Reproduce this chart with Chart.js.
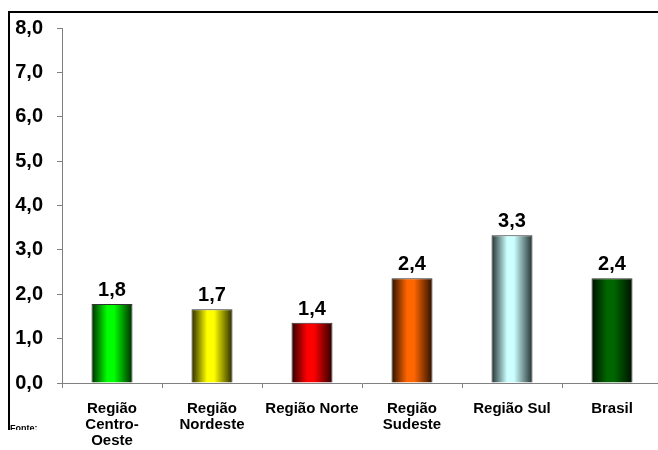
<!DOCTYPE html>
<html>
<head>
<meta charset="utf-8">
<script src="https://cdn.jsdelivr.net/npm/chart.js@4.4.1/dist/chart.umd.min.js"></script>
<style>
  html, body { margin: 0; padding: 0; background: #fff; overflow: hidden; }
  #wrap { position: absolute; left: 0; top: 0; width: 670px; height: 450px; }
</style>
</head>
<body>
<div id="wrap"><canvas id="barChart" width="670" height="450"></canvas></div>
<script>
// dados
const categorias = [
    ['Região', 'Centro-', 'Oeste'],
    ['Região', 'Nordeste'],
    'Região Norte',
    ['Região', 'Sudeste'],
    'Região Sul',
    'Brasil'
];
const valores = [1.78, 1.66, 1.36, 2.36, 3.33, 2.36];
const rotulosY = ['0,0', '1,0', '2,0', '3,0', '4,0', '5,0', '6,0', '7,0', '8,0'];

// cor central e cor da borda de cada barra (efeito cilindro)
const coresCentro = ['#00ff00', '#ffff00', '#ff0000', '#ff6600', '#ccffff', '#006600'];
const coresBorda = ['#002a00', '#2a2a00', '#2a0000', '#2a1000', '#223030', '#001000'];

const fonte = "'Liberation Sans', Arial, sans-serif";

// gradiente horizontal em cada barra
const gradientePlugin = {
    id: 'gradiente',
    beforeDatasetsDraw(chart) {
        const ctx = chart.ctx;
        const meta = chart.getDatasetMeta(0);
        meta.data.forEach((bar, i) => {
            const left = bar.x - bar.width / 2;
            const right = bar.x + bar.width / 2;
            const g = ctx.createLinearGradient(left, 0, right, 0);
            g.addColorStop(0, coresBorda[i]);
            g.addColorStop(0.38, coresCentro[i]);
            g.addColorStop(0.55, coresCentro[i]);
            g.addColorStop(1, coresBorda[i]);
            bar.options.backgroundColor = g;
        });
    }
};

// valores acima das barras, moldura e "Fonte:"
const extrasPlugin = {
    id: 'extras',
    afterDatasetsDraw(chart) {
        const ctx = chart.ctx;
        const meta = chart.getDatasetMeta(0);
        ctx.save();
        ctx.fillStyle = '#000';
        ctx.font = 'bold 20px ' + fonte;
        ctx.textAlign = 'center';
        ctx.textBaseline = 'alphabetic';
        meta.data.forEach((bar, i) => {
            ctx.fillText(valores[i].toFixed(1).replace('.', ','), bar.x, bar.y - 8);
        });
        ctx.restore();
    },
    afterDraw(chart) {
        const ctx = chart.ctx;
        ctx.save();
        ctx.strokeStyle = '#000';
        ctx.lineWidth = 2;
        ctx.beginPath();
        ctx.moveTo(9, 430);
        ctx.lineTo(9, 12);
        ctx.lineTo(chart.width, 12);
        ctx.stroke();

        ctx.beginPath();
        ctx.rect(0, 0, 200, 430);
        ctx.clip();
        ctx.fillStyle = '#000';
        ctx.font = 'bold 9px ' + fonte;
        ctx.textAlign = 'left';
        ctx.textBaseline = 'alphabetic';
        ctx.fillText('Fonte:', 10, 431);
        ctx.restore();
    }
};

const ctx = document.getElementById('barChart').getContext('2d');
new Chart(ctx, {
    type: 'bar',
    data: {
        labels: categorias,
        datasets: [{
            data: valores,
            backgroundColor: coresCentro,
            borderColor: '#333333',
            borderWidth: 1,
            borderSkipped: 'bottom',
            barPercentage: 0.41,
            categoryPercentage: 1.0
        }]
    },
    options: {
        responsive: false,
        animation: false,
        layout: {
            padding: { left: 0, top: 28, right: 8, bottom: 0 }
        },
        plugins: {
            legend: { display: false },
            tooltip: { enabled: false }
        },
        scales: {
            x: {
                offset: true,
                grid: {
                    offset: true,
                    drawOnChartArea: false,
                    drawTicks: true,
                    tickLength: 5,
                    color: '#808080'
                },
                border: { color: '#808080', width: 1 },
                ticks: {
                    color: '#000',
                    padding: 13,
                    maxRotation: 0,
                    autoSkip: false,
                    font: { family: fonte, size: 15, weight: 'bold', lineHeight: '16px' }
                },
                afterFit(scale) { scale.height = 67; }
            },
            y: {
                min: 0,
                max: 8,
                grid: {
                    drawOnChartArea: false,
                    drawTicks: true,
                    tickLength: 5,
                    color: '#808080'
                },
                border: { color: '#808080', width: 1 },
                ticks: {
                    stepSize: 1,
                    color: '#000',
                    padding: 14,
                    font: { family: fonte, size: 20, weight: 'bold' },
                    callback: (v) => rotulosY[v]
                },
                afterFit(scale) { scale.width = 62; }
            }
        }
    },
    plugins: [gradientePlugin, extrasPlugin]
});
</script>
</body>
</html>
